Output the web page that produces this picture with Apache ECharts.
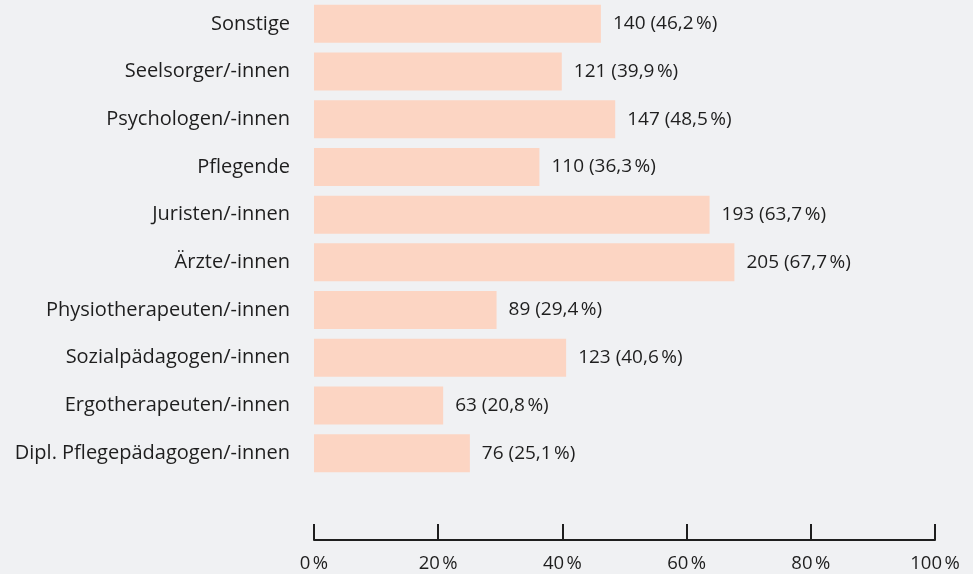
<!DOCTYPE html>
<html>
<head>
<meta charset="utf-8">
<style>
  html, body { margin: 0; padding: 0; background: #f0f1f3; }
  #chart { width: 973px; height: 574px; }
</style>
<script src="https://cdn.jsdelivr.net/npm/echarts@6/dist/echarts.min.js"></script>
</head>
<body>
<div id="chart"></div>
<script>
// Professional groups, bottom to top as drawn on the category axis
const categories = [
  'Dipl. Pflegepädagogen/-innen',
  'Ergotherapeuten/-innen',
  'Sozialpädagogen/-innen',
  'Physiotherapeuten/-innen',
  'Ärzte/-innen',
  'Juristen/-innen',
  'Pflegende',
  'Psychologen/-innen',
  'Seelsorger/-innen',
  'Sonstige'
];
// Number of mentions per group
const counts = [76, 63, 123, 89, 205, 193, 110, 147, 121, 140];
// Share of respondents in percent
const percents = [25.1, 20.8, 40.6, 29.4, 67.7, 63.7, 36.3, 48.5, 39.9, 46.2];
// Value axis ticks
const tickValues = [0, 20, 40, 60, 80, 100];

const NS = '\u202F';
const fmtPct = v => v.toFixed(1).replace('.', ',') + NS + '%';
const font = '"Open Sans", "Noto Sans", sans-serif';
const ink = '#1e1e1e';

const chart = echarts.init(document.getElementById('chart'), null, { renderer: 'canvas' });
chart.setOption({
  backgroundColor: '#f0f1f3',
  animation: false,
  grid: { left: 314, right: 38, top: -1, bottom: 97, containLabel: false },
  xAxis: {
    type: 'value',
    min: tickValues[0],
    max: tickValues[tickValues.length - 1],
    interval: 20,
    position: 'bottom',
    offset: 63,
    axisLine: { show: true, lineStyle: { color: ink, width: 2 } },
    axisTick: { show: true, inside: true, length: 16, lineStyle: { color: ink, width: 2 } },
    splitLine: { show: false },
    axisLabel: {
      margin: 14,
      color: ink,
      fontFamily: font,
      fontSize: 18.5,
      formatter: v => v + NS + '%'
    }
  },
  yAxis: {
    type: 'category',
    data: categories,
    axisLine: { show: false },
    axisTick: { show: false },
    axisLabel: {
      margin: 24,
      color: ink,
      fontFamily: font,
      fontSize: 20
    }
  },
  series: [{
    type: 'bar',
    data: percents,
    barWidth: 38,
    itemStyle: { color: '#fcd5c3' },
    label: {
      show: true,
      position: 'right',
      distance: 12,
      color: ink,
      fontFamily: font,
      fontSize: 19,
      formatter: p => counts[p.dataIndex] + ' (' + fmtPct(p.value) + ')'
    }
  }]
});
</script>
</body>
</html>
